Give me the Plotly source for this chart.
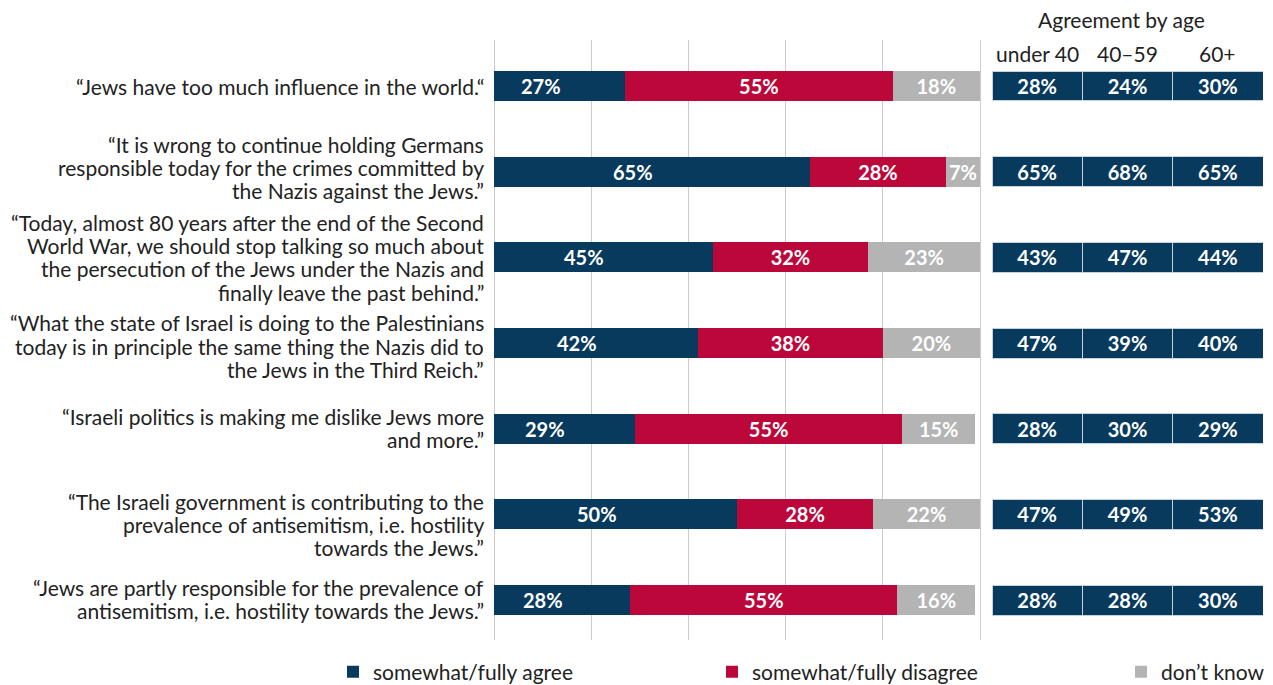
import plotly.graph_objects as go

W, H = 1273, 685

statements = [
    "“Jews have too much influence in the world.“",
    "“It is wrong to continue holding Germans<br>responsible today for the crimes committed by<br>the Nazis against the Jews.”",
    "“Today, almost 80 years after the end of the Second<br>World War, we should stop talking so much about<br>the persecution of the Jews under the Nazis and<br>finally leave the past behind.”",
    "“What the state of Israel is doing to the Palestinians<br>today is in principle the same thing the Nazis did to<br>the Jews in the Third Reich.”",
    "“Israeli politics is making me dislike Jews more<br>and more.”",
    "“The Israeli government is contributing to the<br>prevalence of antisemitism, i.e. hostility<br>towards the Jews.”",
    "“Jews are partly responsible for the prevalence of<br>antisemitism, i.e. hostility towards the Jews.”",
]
agree = [27, 65, 45, 42, 29, 50, 28]
disagree = [55, 28, 32, 38, 55, 28, 55]
dont_know = [18, 7, 23, 20, 15, 22, 16]

age_groups = ["under 40", "40–59", "60+"]
age_under40 = [28, 65, 43, 47, 28, 47, 28]
age_40_59 = [24, 68, 47, 39, 30, 49, 28]
age_60plus = [30, 65, 44, 40, 29, 53, 30]
age_values = [age_under40, age_40_59, age_60plus]

series_names = ["somewhat/fully agree", "somewhat/fully disagree", "don’t know"]

NAVY = "#073a5d"
RED = "#bc073b"
GREY = "#b4b4b4"
TEXT = "#222222"
FONT = "Lato"
FS = 21

rows = list(range(len(statements)))

fig = go.Figure()

bar_w = 0.35
lab_font = dict(family=FONT, size=20, color="white", weight="bold")

fig.add_trace(go.Bar(
    y=rows, x=agree, orientation="h", name=series_names[0],
    marker=dict(color=NAVY, line=dict(width=0)), width=bar_w,
    legend="legend", hoverinfo="skip",
))
fig.add_trace(go.Bar(
    y=rows, x=disagree, orientation="h", name=series_names[1],
    marker=dict(color=RED, line=dict(width=0)), width=bar_w,
    text=disagree, texttemplate="%{text}%", textposition="inside",
    insidetextanchor="middle", textfont=lab_font, constraintext="none",
    legend="legend2", hoverinfo="skip",
))
fig.add_trace(go.Bar(
    y=rows, x=dont_know, orientation="h", name=series_names[2],
    marker=dict(color=GREY, line=dict(width=0)), width=bar_w,
    text=dont_know, texttemplate="%{text}%", textposition="inside",
    insidetextanchor="middle", textfont=lab_font, constraintext="none",
    legend="legend3", hoverinfo="skip",
))

# age table cells
for k, vals in enumerate(age_values):
    fig.add_trace(go.Bar(
        y=rows, x=[1] * len(rows), orientation="h", xaxis="x2", yaxis="y",
        marker=dict(color=NAVY, line=dict(width=1, color="#c5d1dc")), width=bar_w,
        text=vals, texttemplate="%{text}%", textposition="inside",
        insidetextanchor="middle", textfont=lab_font, constraintext="none",
        showlegend=False, hoverinfo="skip",
    ))

LINE_PITCH = 23.2
row_offsets = [0, -4, 0, 3, -1, 10, -1]  # px, downward

annotations = []
for i, (s, a) in enumerate(zip(statements, agree)):
    lines = s.split("<br>")
    n = len(lines)
    for j, ln in enumerate(lines):
        off = (j - (n - 1) / 2) * LINE_PITCH + row_offsets[i]
        annotations.append(dict(
            x=485 / W, xref="paper", y=i, yref="y", xanchor="right", yanchor="middle",
            text=ln, align="right", showarrow=False, yshift=-off, borderpad=0,
            font=dict(family=FONT, size=FS, color=TEXT),
        ))
    annotations.append(dict(
        x=a / 2, xref="x", y=i, yref="y", xanchor="center", yanchor="middle",
        text=f"{a}%", showarrow=False, xshift=-19,
        font=lab_font,
    ))

annotations.append(dict(
    x=1.5, xref="x2", y=1 - 19 / H, yref="paper", xanchor="center", yanchor="middle",
    text="Agreement by age", showarrow=False, xshift=-6,
    font=dict(family=FONT, size=FS, color=TEXT),
))
for k, g in enumerate(age_groups):
    annotations.append(dict(
        x=k + 0.5, xref="x2", y=1 - 53 / H, yref="paper", xanchor="center", yanchor="middle",
        text=g, showarrow=False,
        font=dict(family=FONT, size=FS, color=TEXT),
    ))

y0_px, y1_px = 40, 640
row0_px, row_step = 86, 85.67
y_top = (y0_px - row0_px) / row_step
y_bot = (y1_px - row0_px) / row_step

pad = 0.3
px_per = (980 - 494) / 100
x_dom = [(494 - pad * px_per) / W, (980 + pad * px_per) / W]

leg_common = dict(
    orientation="h", yanchor="middle", y=1 - 672 / H, xanchor="left",
    font=dict(family=FONT, size=FS, color=TEXT), bgcolor="rgba(0,0,0,0)",
    itemwidth=30, tracegroupgap=0,
)

fig.update_layout(
    width=W, height=H,
    margin=dict(l=0, r=0, t=0, b=0, autoexpand=False),
    paper_bgcolor="white", plot_bgcolor="white",
    barmode="stack",
    font=dict(family=FONT, size=FS, color=TEXT),
    xaxis=dict(domain=x_dom, range=[-pad, 100 + pad], showticklabels=False,
               showgrid=True, gridcolor="#cccccc", gridwidth=1, dtick=20, tick0=0,
               zeroline=False, showline=False, fixedrange=True),
    xaxis2=dict(domain=[992 / W, 1263 / W], range=[0, 3], anchor="y",
                showticklabels=False, showgrid=False, zeroline=False, showline=False),
    yaxis=dict(domain=[1 - y1_px / H, 1 - y0_px / H], range=[y_bot, y_top],
               showticklabels=False, showgrid=False, zeroline=False, showline=False),
    annotations=annotations,
    legend=dict(x=333 / W, **leg_common),
    legend2=dict(x=712 / W, **leg_common),
    legend3=dict(x=1121 / W, **leg_common),
    showlegend=True,
)

fig.write_html("out.html")
